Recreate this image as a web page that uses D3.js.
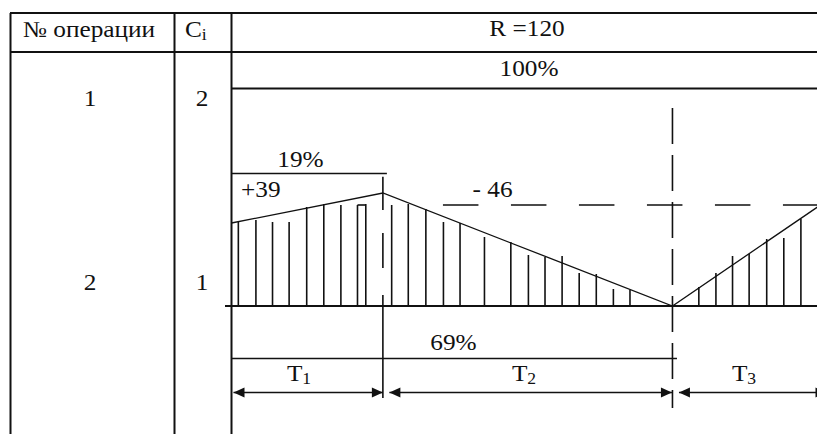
<!DOCTYPE html>
<html><head><meta charset="utf-8">
<script src="https://cdn.jsdelivr.net/npm/d3@7"></script>
<style>
html,body{margin:0;padding:0;background:#fff;}
svg{display:block;}
text{font-family:"Liberation Serif","Times New Roman",serif;fill:#111;}
</style>
</head><body>
<svg id="c" width="817" height="434"></svg>
<script>
// ---------------- data ----------------
const columnHeaders = ["№ операции", "C_i"];
const R = 120;
const operations = ["1", "2"];
const stations = ["2", "1"];
const totalPercent = 100;
const periodPercents = [19, 69];
const increments = [39, -46];
const periods = ["T_1", "T_2", "T_3"];
const periodEnds = [31.0, 90.3, 120];
const curveT = [0, 31.0, 90.3, 120];
const curveV = [83, 113, 0, 99];
const levelValue = 101;
const levelSpan = [43.3, 120];
const hatchT = [1.4, 5.0, 8.4, 11.8, 15.4, 18.9, 22.4, 25.8, 27.5, 32.8, 36.2, 39.8, 43.4, 46.8,
  51.8, 57.2, 60.8, 64.2, 67.7, 71.2, 74.7, 78.2, 81.6, 95.7, 99.2, 102.6, 106.0, 109.6, 113.1, 116.6];
const hatchV = [84, 86, 84, 84, 99, 102, 101, 101, 102, 101, 102, 97, 84, 83,
  69, 64, 51, 49, 50, 33, 32, 17, 16, 19, 33, 50, 52, 67, 68, 87];

// ---------------- layout ----------------
const W = 817, H = 434;
const ink = "#111";
const svg = d3.select("#c");
const x = d3.scaleLinear().domain([0, R]).range([231.5, 817.5]);
const y = d3.scaleLinear().domain([0, 120]).range([306, 186]);
const SX = 1.1, FS = 23;

function line(x1, y1, x2, y2, w, dash) {
  const l = svg.append("line").attr("x1", x1).attr("y1", y1).attr("x2", x2).attr("y2", y2)
    .attr("stroke", ink).attr("stroke-width", w || 1.6);
  if (dash) l.attr("stroke-dasharray", dash);
  return l;
}
function label(str, cx, by, anchor, size) {
  const parts = str.split("_");
  const t = svg.append("text")
    .attr("transform", `translate(${cx},${by}) scale(${SX},1)`)
    .attr("text-anchor", anchor || "middle")
    .style("font-size", (size || FS) + "px");
  t.append("tspan").text(parts[0]);
  if (parts[1]) t.append("tspan").attr("dy", 3).style("font-size", "16px").text(parts[1]);
  return t;
}

// table grid
line(10, 13, W, 13, 2);
line(10, 52, W, 52, 2);
line(x(0), 88.5, W, 88.5, 2);
[10.5, 174.5, x(0)].forEach(v => line(v, 13, v, H, 2));

// header texts
label(columnHeaders[0], 89, 36.5);
label(columnHeaders[1], 185, 36.5, "start");
label("R =" + R, 527, 36);
label(totalPercent + "%", 529, 76);

// row texts
const rowBase = [106, 290];
operations.forEach((o, i) => label(o, 90, rowBase[i]));
stations.forEach((s, i) => label(s, 202, rowBase[i]));

// baseline
line(x(0) - 6.5, y(0), W, y(0), 1.8);

// hatching
svg.append("g").selectAll("line").data(hatchT).join("line")
  .attr("x1", d => x(d)).attr("x2", d => x(d))
  .attr("y1", y(0)).attr("y2", (d, i) => y(hatchV[i]))
  .attr("stroke", ink).attr("stroke-width", 1.6);
line(x(hatchT[7]), y(hatchV[7]), x(hatchT[8]), y(hatchV[7]), 1.6);

// curve
svg.append("path")
  .datum(curveT.map((t, i) => [t, curveV[i]]))
  .attr("d", d3.line().x(d => x(d[0])).y(d => y(d[1])))
  .attr("fill", "none").attr("stroke", ink).attr("stroke-width", 1.3);

// level dashed line
line(x(levelSpan[0]), y(levelValue), x(levelSpan[1]), y(levelValue), 1.6, "35.5,32.5");

// period boundaries
line(x(periodEnds[0]), 176.7, x(periodEnds[0]), 398, 1.6, "33.3,23,35,27,103");
line(x(periodEnds[1]), 108, x(periodEnds[1]), 408, 1.6, "36,11");

// percentage dimension lines
line(x(0), 173.5, x(periodEnds[0]) + 4, 173.5, 1.6);
line(x(0), 358.5, x(periodEnds[1]) + 4.5, 358.5, 1.6);
label(periodPercents[0] + "%", 300.5, 166.5);
label(periodPercents[1] + "%", 453.5, 350);

// increments
const fmtInc = v => (v < 0 ? "- " : "+") + Math.abs(v);
label(fmtInc(increments[0]), 241, 196.5, "start");
label(fmtInc(increments[1]), 472.5, 196.7, "start");

// period arrows
const arrowY = 392.5;
const starts = [0].concat(periodEnds.slice(0, 2));
const gapL = [2, 6.5, 6.5], gapR = [0, 0.5, -9];
periods.forEach((p, i) => {
  const a = x(starts[i]) + gapL[i], b = x(periodEnds[i]) - gapR[i];
  line(a, arrowY, b, arrowY, 1.6);
  svg.append("path").attr("d", `M${a},${arrowY} l11,-5 l0,10 Z`).attr("fill", ink);
  svg.append("path").attr("d", `M${b},${arrowY} l-11,-5 l0,10 Z`).attr("fill", ink);
});
const tCenters = [299, 524, 744];
periods.forEach((p, i) => label(p, tCenters[i], 380.5));
</script>
</body></html>
